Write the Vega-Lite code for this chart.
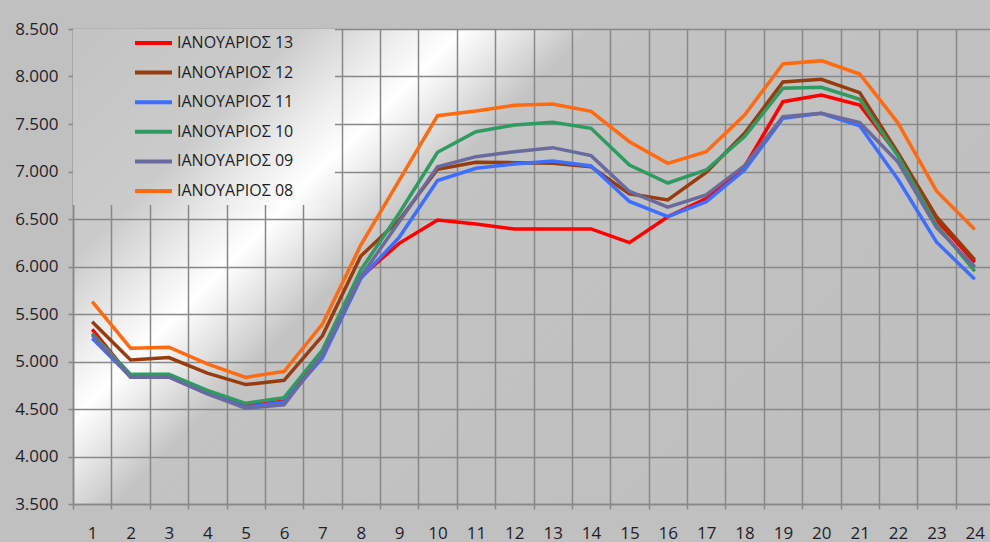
{
  "$schema": "https://vega.github.io/schema/vega-lite/v6.json",
  "width": 921,
  "height": 475,
  "autosize": {"type": "none"},
  "padding": {"left": 73, "top": 29, "right": 0, "bottom": 38},
  "background": "#c0c0c0",
  "config": {
    "locale": {"number": {"decimal": ",", "thousands": ".", "grouping": [3], "currency": ["", " €"]}},
    "font": "Open Sans",
    "view": {
      "stroke": null,
      "fill": {
        "gradient": "linear", "x1": 0, "y1": 0, "x2": 1, "y2": 0.516,
        "stops": [
          {"offset": 0, "color": "#c3c3c3"},
          {"offset": 0.2, "color": "#cbcbcb"},
          {"offset": 0.28, "color": "#ececec"},
          {"offset": 0.335, "color": "#ffffff"},
          {"offset": 0.39, "color": "#e2e2e2"},
          {"offset": 0.445, "color": "#c3c3c3"},
          {"offset": 1, "color": "#bfbfbf"}
        ]
      }
    }
  },
  "data": {"values": [
    {"h": 1, "ΙΑΝΟΥΑΡΙΟΣ 13": 5339, "ΙΑΝΟΥΑΡΙΟΣ 12": 5419, "ΙΑΝΟΥΑΡΙΟΣ 11": 5244, "ΙΑΝΟΥΑΡΙΟΣ 10": 5296, "ΙΑΝΟΥΑΡΙΟΣ 09": 5280, "ΙΑΝΟΥΑΡΙΟΣ 08": 5630},
    {"h": 2, "ΙΑΝΟΥΑΡΙΟΣ 13": 4840, "ΙΑΝΟΥΑΡΙΟΣ 12": 5016, "ΙΑΝΟΥΑΡΙΟΣ 11": 4840, "ΙΑΝΟΥΑΡΙΟΣ 10": 4865, "ΙΑΝΟΥΑΡΙΟΣ 09": 4835, "ΙΑΝΟΥΑΡΙΟΣ 08": 5140},
    {"h": 3, "ΙΑΝΟΥΑΡΙΟΣ 13": 4840, "ΙΑΝΟΥΑΡΙΟΣ 12": 5042, "ΙΑΝΟΥΑΡΙΟΣ 11": 4840, "ΙΑΝΟΥΑΡΙΟΣ 10": 4865, "ΙΑΝΟΥΑΡΙΟΣ 09": 4835, "ΙΑΝΟΥΑΡΙΟΣ 08": 5150},
    {"h": 4, "ΙΑΝΟΥΑΡΙΟΣ 13": 4665, "ΙΑΝΟΥΑΡΙΟΣ 12": 4878, "ΙΑΝΟΥΑΡΙΟΣ 11": 4665, "ΙΑΝΟΥΑΡΙΟΣ 10": 4697, "ΙΑΝΟΥΑΡΙΟΣ 09": 4660, "ΙΑΝΟΥΑΡΙΟΣ 08": 4975},
    {"h": 5, "ΙΑΝΟΥΑΡΙΟΣ 13": 4530, "ΙΑΝΟΥΑΡΙΟΣ 12": 4757, "ΙΑΝΟΥΑΡΙΟΣ 11": 4520, "ΙΑΝΟΥΑΡΙΟΣ 10": 4560, "ΙΑΝΟΥΑΡΙΟΣ 09": 4507, "ΙΑΝΟΥΑΡΙΟΣ 08": 4833},
    {"h": 6, "ΙΑΝΟΥΑΡΙΟΣ 13": 4584, "ΙΑΝΟΥΑΡΙΟΣ 12": 4802, "ΙΑΝΟΥΑΡΙΟΣ 11": 4575, "ΙΑΝΟΥΑΡΙΟΣ 10": 4619, "ΙΑΝΟΥΑΡΙΟΣ 09": 4545, "ΙΑΝΟΥΑΡΙΟΣ 08": 4895},
    {"h": 7, "ΙΑΝΟΥΑΡΙΟΣ 13": 5060, "ΙΑΝΟΥΑΡΙΟΣ 12": 5270, "ΙΑΝΟΥΑΡΙΟΣ 11": 5037, "ΙΑΝΟΥΑΡΙΟΣ 10": 5121, "ΙΑΝΟΥΑΡΙΟΣ 09": 5068, "ΙΑΝΟΥΑΡΙΟΣ 08": 5395},
    {"h": 8, "ΙΑΝΟΥΑΡΙΟΣ 13": 5890, "ΙΑΝΟΥΑΡΙΟΣ 12": 6110, "ΙΑΝΟΥΑΡΙΟΣ 11": 5875, "ΙΑΝΟΥΑΡΙΟΣ 10": 5963, "ΙΑΝΟΥΑΡΙΟΣ 09": 5893, "ΙΑΝΟΥΑΡΙΟΣ 08": 6226},
    {"h": 9, "ΙΑΝΟΥΑΡΙΟΣ 13": 6244, "ΙΑΝΟΥΑΡΙΟΣ 12": 6490, "ΙΑΝΟΥΑΡΙΟΣ 11": 6307, "ΙΑΝΟΥΑΡΙΟΣ 10": 6560, "ΙΑΝΟΥΑΡΙΟΣ 09": 6470, "ΙΑΝΟΥΑΡΙΟΣ 08": 6907},
    {"h": 10, "ΙΑΝΟΥΑΡΙΟΣ 13": 6489, "ΙΑΝΟΥΑΡΙΟΣ 12": 7023, "ΙΑΝΟΥΑΡΙΟΣ 11": 6905, "ΙΑΝΟΥΑΡΙΟΣ 10": 7202, "ΙΑΝΟΥΑΡΙΟΣ 09": 7050, "ΙΑΝΟΥΑΡΙΟΣ 08": 7588},
    {"h": 11, "ΙΑΝΟΥΑΡΙΟΣ 13": 6447, "ΙΑΝΟΥΑΡΙΟΣ 12": 7097, "ΙΑΝΟΥΑΡΙΟΣ 11": 7034, "ΙΑΝΟΥΑΡΙΟΣ 10": 7419, "ΙΑΝΟΥΑΡΙΟΣ 09": 7156, "ΙΑΝΟΥΑΡΙΟΣ 08": 7637},
    {"h": 12, "ΙΑΝΟΥΑΡΙΟΣ 13": 6395, "ΙΑΝΟΥΑΡΙΟΣ 12": 7093, "ΙΑΝΟΥΑΡΙΟΣ 11": 7079, "ΙΑΝΟΥΑΡΙΟΣ 10": 7489, "ΙΑΝΟΥΑΡΙΟΣ 09": 7208, "ΙΑΝΟΥΑΡΙΟΣ 08": 7697},
    {"h": 13, "ΙΑΝΟΥΑΡΙΟΣ 13": 6395, "ΙΑΝΟΥΑΡΙΟΣ 12": 7086, "ΙΑΝΟΥΑΡΙΟΣ 11": 7111, "ΙΑΝΟΥΑΡΙΟΣ 10": 7518, "ΙΑΝΟΥΑΡΙΟΣ 09": 7251, "ΙΑΝΟΥΑΡΙΟΣ 08": 7711},
    {"h": 14, "ΙΑΝΟΥΑΡΙΟΣ 13": 6395, "ΙΑΝΟΥΑΡΙΟΣ 12": 7050, "ΙΑΝΟΥΑΡΙΟΣ 11": 7058, "ΙΑΝΟΥΑΡΙΟΣ 10": 7455, "ΙΑΝΟΥΑΡΙΟΣ 09": 7167, "ΙΑΝΟΥΑΡΙΟΣ 08": 7634},
    {"h": 15, "ΙΑΝΟΥΑΡΙΟΣ 13": 6251, "ΙΑΝΟΥΑΡΙΟΣ 12": 6765, "ΙΑΝΟΥΑΡΙΟΣ 11": 6685, "ΙΑΝΟΥΑΡΙΟΣ 10": 7068, "ΙΑΝΟΥΑΡΙΟΣ 09": 6790, "ΙΑΝΟΥΑΡΙΟΣ 08": 7314},
    {"h": 16, "ΙΑΝΟΥΑΡΙΟΣ 13": 6524, "ΙΑΝΟΥΑΡΙΟΣ 12": 6700, "ΙΑΝΟΥΑΡΙΟΣ 11": 6524, "ΙΑΝΟΥΑΡΙΟΣ 10": 6879, "ΙΑΝΟΥΑΡΙΟΣ 09": 6625, "ΙΑΝΟΥΑΡΙΟΣ 08": 7086},
    {"h": 17, "ΙΑΝΟΥΑΡΙΟΣ 13": 6715, "ΙΑΝΟΥΑΡΙΟΣ 12": 6990, "ΙΑΝΟΥΑΡΙΟΣ 11": 6682, "ΙΑΝΟΥΑΡΙΟΣ 10": 7016, "ΙΑΝΟΥΑΡΙΟΣ 09": 6753, "ΙΑΝΟΥΑΡΙΟΣ 08": 7208},
    {"h": 18, "ΙΑΝΟΥΑΡΙΟΣ 13": 7050, "ΙΑΝΟΥΑΡΙΟΣ 12": 7402, "ΙΑΝΟΥΑΡΙΟΣ 11": 7015, "ΙΑΝΟΥΑΡΙΟΣ 10": 7367, "ΙΑΝΟΥΑΡΙΟΣ 09": 7062, "ΙΑΝΟΥΑΡΙΟΣ 08": 7595},
    {"h": 19, "ΙΑΝΟΥΑΡΙΟΣ 13": 7735, "ΙΑΝΟΥΑΡΙΟΣ 12": 7942, "ΙΑΝΟΥΑΡΙΟΣ 11": 7560, "ΙΑΝΟΥΑΡΙΟΣ 10": 7876, "ΙΑΝΟΥΑΡΙΟΣ 09": 7577, "ΙΑΝΟΥΑΡΙΟΣ 08": 8132},
    {"h": 20, "ΙΑΝΟΥΑΡΙΟΣ 13": 7805, "ΙΑΝΟΥΑΡΙΟΣ 12": 7970, "ΙΑΝΟΥΑΡΙΟΣ 11": 7612, "ΙΑΝΟΥΑΡΙΟΣ 10": 7886, "ΙΑΝΟΥΑΡΙΟΣ 09": 7612, "ΙΑΝΟΥΑΡΙΟΣ 08": 8167},
    {"h": 21, "ΙΑΝΟΥΑΡΙΟΣ 13": 7700, "ΙΑΝΟΥΑΡΙΟΣ 12": 7830, "ΙΑΝΟΥΑΡΙΟΣ 11": 7482, "ΙΑΝΟΥΑΡΙΟΣ 10": 7760, "ΙΑΝΟΥΑΡΙΟΣ 09": 7514, "ΙΑΝΟΥΑΡΙΟΣ 08": 8026},
    {"h": 22, "ΙΑΝΟΥΑΡΙΟΣ 13": 7175, "ΙΑΝΟΥΑΡΙΟΣ 12": 7195, "ΙΑΝΟΥΑΡΙΟΣ 11": 6915, "ΙΑΝΟΥΑΡΙΟΣ 10": 7160, "ΙΑΝΟΥΑΡΙΟΣ 09": 7100, "ΙΑΝΟΥΑΡΙΟΣ 08": 7510},
    {"h": 23, "ΙΑΝΟΥΑΡΙΟΣ 13": 6489, "ΙΑΝΟΥΑΡΙΟΣ 12": 6524, "ΙΑΝΟΥΑΡΙΟΣ 11": 6258, "ΙΑΝΟΥΑΡΙΟΣ 10": 6440, "ΙΑΝΟΥΑΡΙΟΣ 09": 6410, "ΙΑΝΟΥΑΡΙΟΣ 08": 6795},
    {"h": 24, "ΙΑΝΟΥΑΡΙΟΣ 13": 6045, "ΙΑΝΟΥΑΡΙΟΣ 12": 6070, "ΙΑΝΟΥΑΡΙΟΣ 11": 5866, "ΙΑΝΟΥΑΡΙΟΣ 10": 5950, "ΙΑΝΟΥΑΡΙΟΣ 09": 5995, "ΙΑΝΟΥΑΡΙΟΣ 08": 6390}
  ]},
  "transform": [
    {"fold": ["ΙΑΝΟΥΑΡΙΟΣ 13", "ΙΑΝΟΥΑΡΙΟΣ 12", "ΙΑΝΟΥΑΡΙΟΣ 11", "ΙΑΝΟΥΑΡΙΟΣ 10", "ΙΑΝΟΥΑΡΙΟΣ 09", "ΙΑΝΟΥΑΡΙΟΣ 08"], "as": ["series", "value"]}
  ],
  "mark": {"type": "line", "strokeWidth": 3.5, "strokeJoin": "miter"},
  "encoding": {
    "x": {
      "field": "h", "type": "ordinal",
      "scale": {"paddingInner": 0, "paddingOuter": 0},
      "axis": {
        "title": null, "labelAngle": 0, "tickBand": "extent", "grid": true,
        "gridColor": "#888888", "gridWidth": 1.5, "gridOpacity": 1,
        "domainColor": "#888888", "domainWidth": 1.5,
        "tickColor": "#888888", "tickWidth": 1.5, "tickSize": 5,
        "labelFontSize": 17, "labelColor": "#1e1e28", "labelPadding": 16
      }
    },
    "y": {
      "field": "value", "type": "quantitative",
      "scale": {"domain": [3500, 8500], "nice": false, "zero": false},
      "axis": {
        "title": null, "values": [3500, 4000, 4500, 5000, 5500, 6000, 6500, 7000, 7500, 8000, 8500],
        "format": ",.0f", "grid": true,
        "gridColor": "#888888", "gridWidth": 1.5, "gridOpacity": 1,
        "domainColor": "#888888", "domainWidth": 1.5,
        "tickColor": "#888888", "tickWidth": 1.5, "tickSize": 5,
        "labelFontSize": 17, "labelColor": "#1e1e28", "labelPadding": 10
      }
    },
    "color": {
      "field": "series", "type": "nominal",
      "scale": {
        "domain": ["ΙΑΝΟΥΑΡΙΟΣ 13", "ΙΑΝΟΥΑΡΙΟΣ 12", "ΙΑΝΟΥΑΡΙΟΣ 11", "ΙΑΝΟΥΑΡΙΟΣ 10", "ΙΑΝΟΥΑΡΙΟΣ 09", "ΙΑΝΟΥΑΡΙΟΣ 08"],
        "range": ["#ff0000", "#963c0f", "#3d6eff", "#2f9a62", "#6a6a9c", "#ff6a10"]
      },
      "legend": {
        "orient": "top-left", "offset": 0, "padding": 6,
        "title": " ", "titleOrient": "right", "titlePadding": 36,
        "fillColor": {"expr": "{gradient: 'linear', x1: 0, y1: 0, x2: 3.05, y2: 2.02, stops: [{offset: 0, color: '#c3c3c3'}, {offset: 0.2, color: '#cbcbcb'}, {offset: 0.28, color: '#ececec'}, {offset: 0.335, color: '#ffffff'}, {offset: 0.39, color: '#e2e2e2'}, {offset: 0.445, color: '#c3c3c3'}, {offset: 1, color: '#bfbfbf'}]}"},
        "strokeColor": null,
        "symbolType": "stroke", "symbolSize": 1369, "symbolStrokeWidth": 4,
        "symbolOffset": 54, "labelOffset": 3,
        "labelFontSize": 16, "labelColor": "#1e1e28",
        "clipHeight": 16, "rowPadding": 13.6
      }
    }
  }
}
